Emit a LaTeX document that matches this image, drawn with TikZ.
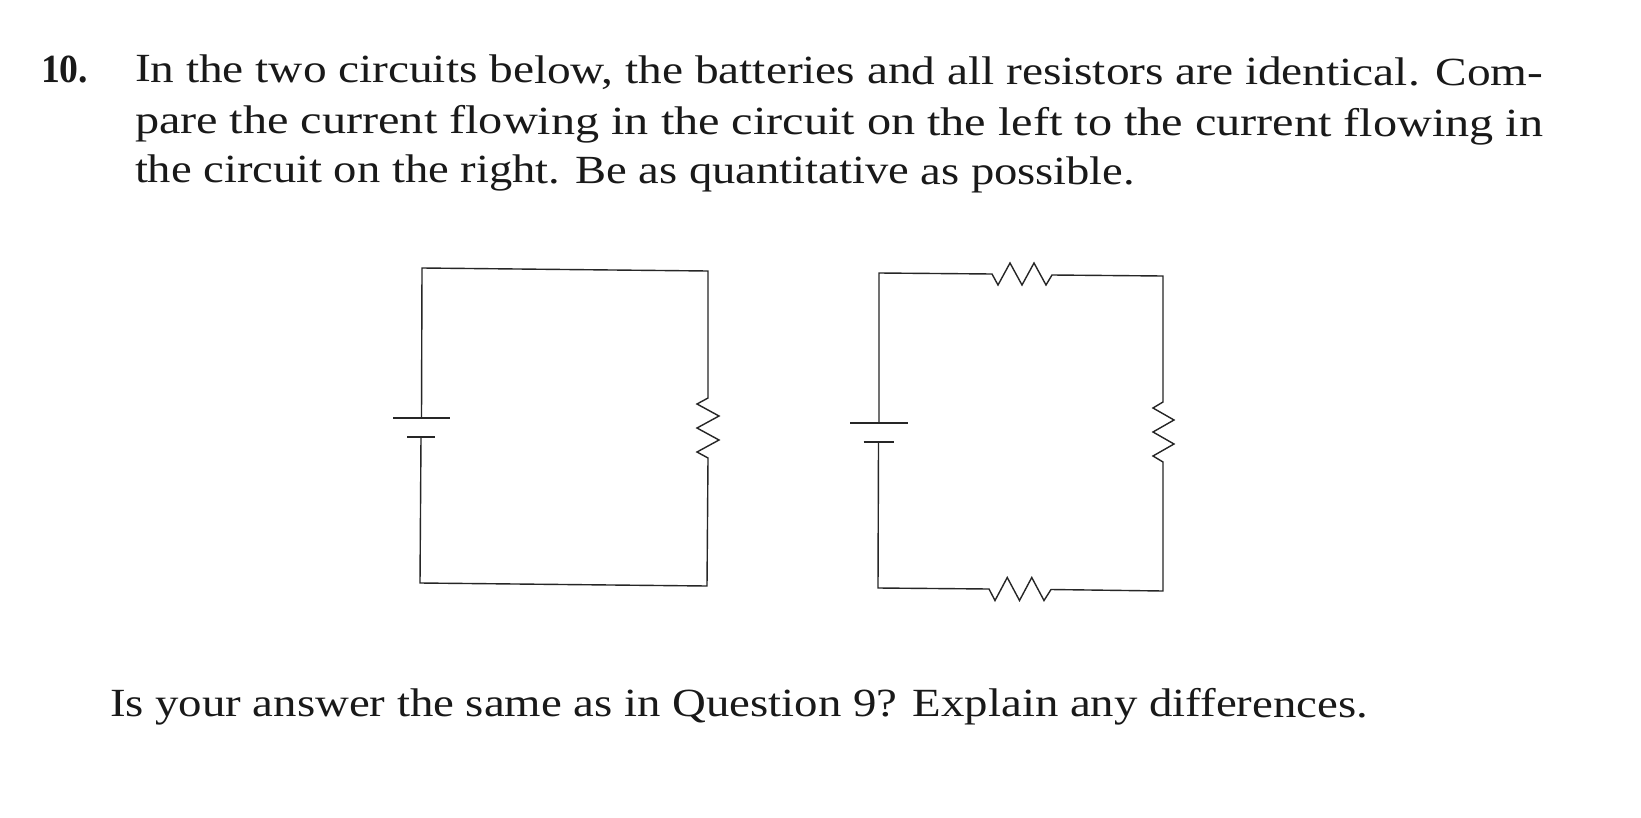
\documentclass[tikz,border=0pt]{standalone}
\usepackage{fontspec}
\setmainfont{Liberation Serif}
\begin{document}
\begin{tikzpicture}[x=1bp,y=-1bp,
  wire/.style={line width=1.4bp, draw=black!85, line join=miter},
  txt/.style={anchor=base west, inner sep=0pt, outer sep=0pt, text=black!90, font=\fontsize{40bp}{46bp}\selectfont}]
\useasboundingbox[fill=white] (0,0) rectangle (1641,818);

% ---------- text ----------
\node[txt, font=\fontsize{40bp}{46bp}\selectfont\bfseries, rotate=-0.15] (num) at (41,82) {\resizebox{47bp}{\height}{10.}};
\node[txt, rotate=-0.15] (l1) at (135,82) {\resizebox{1408bp}{\height}{In the two circuits below, the batteries and all resistors are identical. Com-}};
\node[txt, rotate=-0.15] (l2) at (135,133) {\resizebox{1408bp}{\height}{pare the current flowing in the circuit on the left to the current flowing in}};
\node[txt, rotate=-0.15] (l3) at (135,182) {\resizebox{1000bp}{\height}{the circuit on the right. Be as quantitative as possible.}};
\node[txt, rotate=-0.05] (q) at (110,716) {\resizebox{1258bp}{\height}{Is your answer the same as in Question 9? Explain any differences.}};

% ---------- left circuit ----------
\coordinate (LTL) at (422,268);
\coordinate (LTR) at (708,271);
\coordinate (LBR) at (707,586);
\coordinate (LBL) at (420,583);
\coordinate (LBlong) at (421.5,418);
\coordinate (LBshort) at (421,437);
\coordinate (LRtop) at (708,398);
\coordinate (LRbot) at (708,458);

\draw[wire] (LBlong) -- (LTL) -- (LTR) -- (LRtop)
  -- ++(-11,6) -- ++(22,12) -- ++(-22,12) -- ++(22,12) -- ++(-22,12) -- (LRbot)
  -- (LBR) -- (LBL) -- (LBshort);
\draw[wire] ([xshift=-28.5bp]LBlong) -- ([xshift=28.5bp]LBlong);
\draw[wire] ([xshift=-14bp]LBshort) -- ([xshift=14bp]LBshort);

% ---------- right circuit ----------
\coordinate (RTL) at (879,273);
\coordinate (RTR) at (1163,276);
\coordinate (RBR) at (1163,591);
\coordinate (RBL) at (878,588);
\coordinate (RBlong) at (879,423);
\coordinate (RBshort) at (878.5,442);
\coordinate (RT1) at (992,274);
\coordinate (RT2) at (1052,275);
\coordinate (RR1) at (1163,402);
\coordinate (RR2) at (1163,462);
\coordinate (RB1) at (989,589);
\coordinate (RB2) at (1051,589.5);

\draw[wire] (RBlong) -- (RTL) -- (RT1)
  -- ++(6,11) -- ++(12,-22) -- ++(12,22) -- ++(12,-22) -- ++(12,22) -- (RT2)
  -- (RTR) -- (RR1)
  -- ++(-10,6) -- ++(21,12) -- ++(-21,12) -- ++(21,12) -- ++(-21,12) -- (RR2)
  -- (RBR) -- (RB2)
  -- ++(-7,11) -- ++(-12.25,-23) -- ++(-12.25,23) -- ++(-12.25,-23) -- ++(-12.25,23) -- (RB1)
  -- (RBL) -- (RBshort);
\draw[wire] ([xshift=-29bp]RBlong) -- ([xshift=29bp]RBlong);
\draw[wire] ([xshift=-15bp]RBshort) -- ([xshift=15bp]RBshort);
\end{tikzpicture}
\end{document}
